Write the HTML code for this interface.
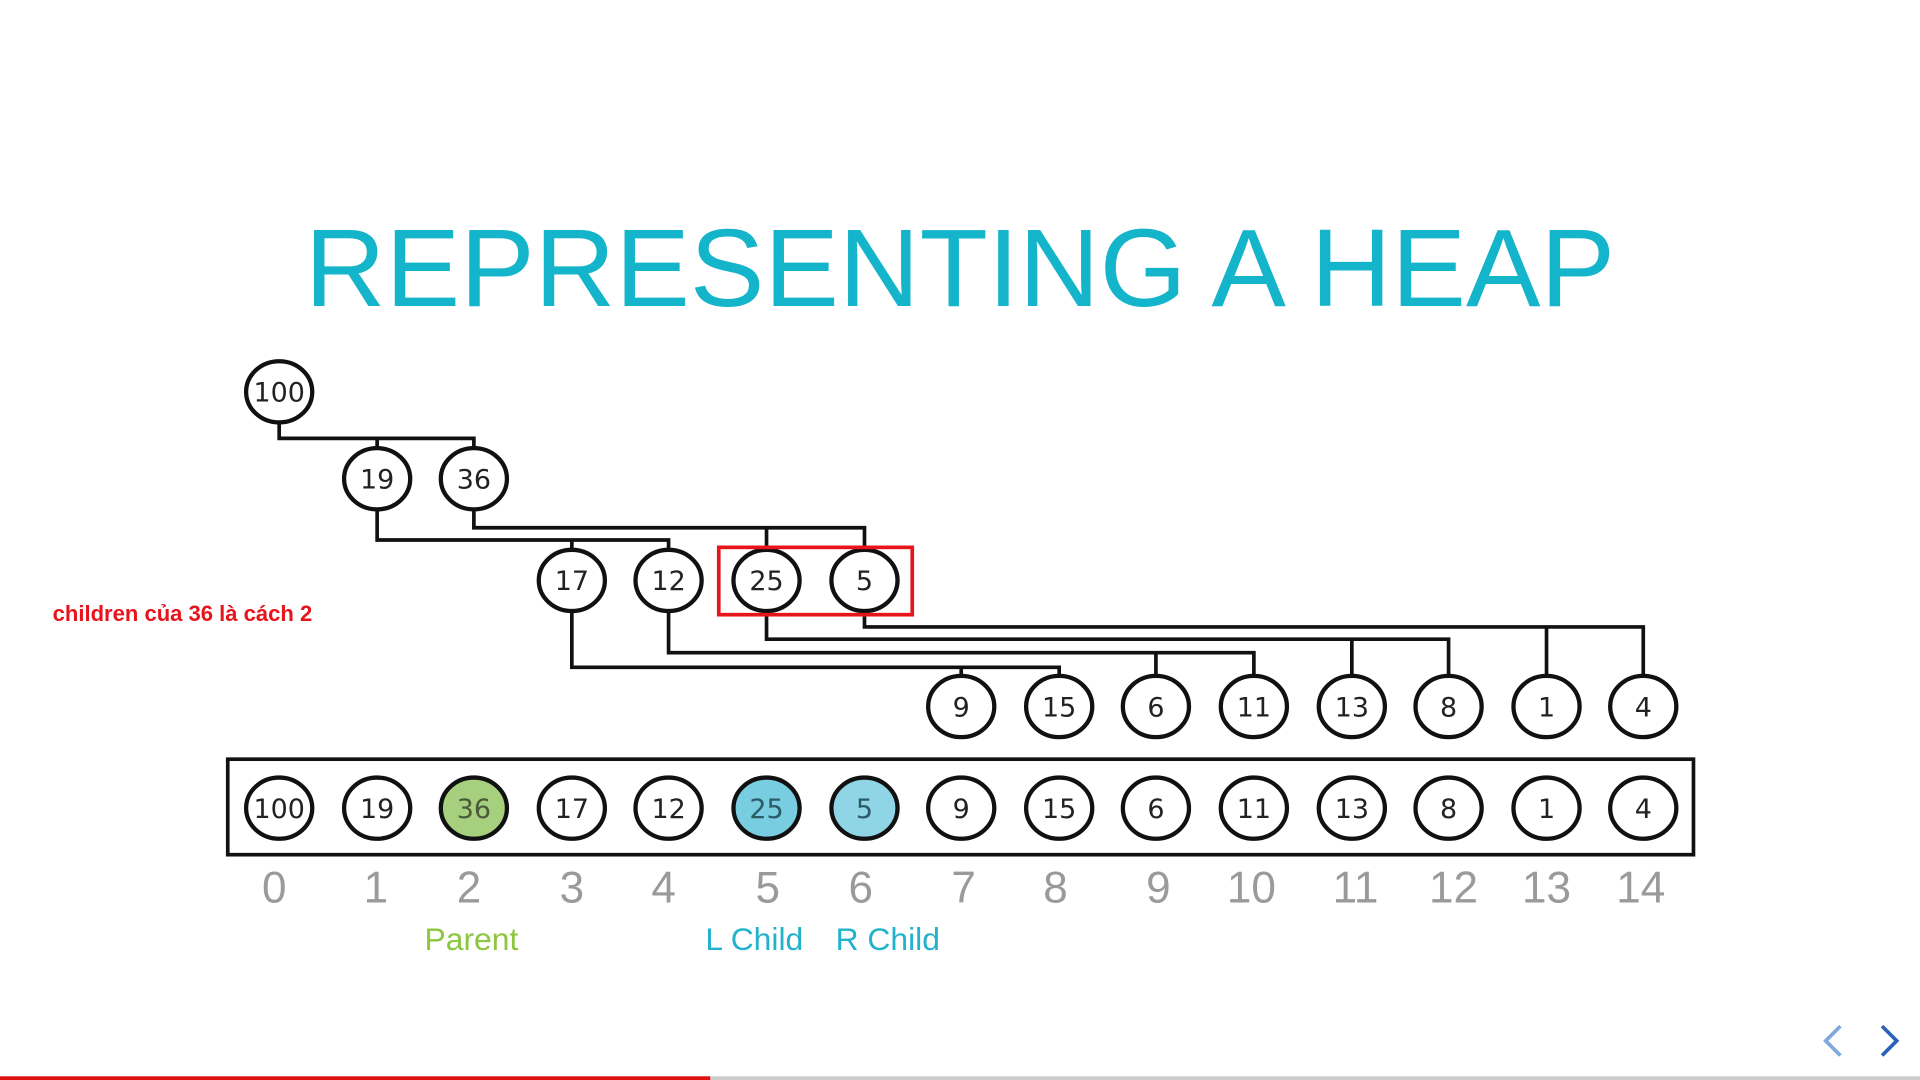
<!DOCTYPE html>
<html><head><meta charset="utf-8"><style>html,body{margin:0;padding:0;background:#fff;overflow:hidden}svg{display:block}</style></head><body>
<svg width="1920" height="1080" viewBox="0 0 1568 882" preserveAspectRatio="none" xmlns="http://www.w3.org/2000/svg">
<rect width="1568" height="882" fill="#fff"/>
<text x="784" y="250" text-anchor="middle" font-family="Liberation Sans, sans-serif" font-size="90" fill="#14b4ca" textLength="1070" lengthAdjust="spacingAndGlyphs">REPRESENTING A HEAP</text>
<g stroke="#111" stroke-width="3" fill="none">
<polyline points="228,345 228,358 387,358 387,366"/><line x1="308" y1="358" x2="308" y2="366"/>
<polyline points="308,416 308,441 546,441 546,449"/><line x1="467" y1="441" x2="467" y2="449"/>
<polyline points="387,416 387,431 706,431 706,449"/><line x1="626" y1="431" x2="626" y2="449"/>
<polyline points="467,499 467,545 865,545 865,552"/><line x1="785" y1="545" x2="785" y2="552"/>
<polyline points="546,499 546,533 1024,533 1024,552"/><line x1="944" y1="533" x2="944" y2="552"/>
<polyline points="626,499 626,522 1183,522 1183,552"/><line x1="1104" y1="522" x2="1104" y2="552"/>
<polyline points="706,499 706,512 1342,512 1342,552"/><line x1="1263" y1="512" x2="1263" y2="552"/>
<rect x="186" y="620" width="1197" height="78"/>
</g>
<g stroke="#111" stroke-width="3.5" font-family="DejaVu Sans, sans-serif" font-size="22" text-anchor="middle">
<g fill="#fff">
<ellipse cx="228" cy="320" rx="27" ry="25"/>
<ellipse cx="308" cy="391" rx="27" ry="25"/><ellipse cx="387" cy="391" rx="27" ry="25"/>
<ellipse cx="467" cy="474" rx="27" ry="25"/><ellipse cx="546" cy="474" rx="27" ry="25"/><ellipse cx="626" cy="474" rx="27" ry="25"/><ellipse cx="706" cy="474" rx="27" ry="25"/>
<ellipse cx="785" cy="577" rx="27" ry="25"/><ellipse cx="865" cy="577" rx="27" ry="25"/><ellipse cx="944" cy="577" rx="27" ry="25"/><ellipse cx="1024" cy="577" rx="27" ry="25"/><ellipse cx="1104" cy="577" rx="27" ry="25"/><ellipse cx="1183" cy="577" rx="27" ry="25"/><ellipse cx="1263" cy="577" rx="27" ry="25"/><ellipse cx="1342" cy="577" rx="27" ry="25"/>
<ellipse cx="228" cy="660" rx="27" ry="25"/><ellipse cx="308" cy="660" rx="27" ry="25"/>
<ellipse cx="387" cy="660" rx="27" ry="25" fill="#a6d07e"/>
<ellipse cx="467" cy="660" rx="27" ry="25"/><ellipse cx="546" cy="660" rx="27" ry="25"/>
<ellipse cx="626" cy="660" rx="27" ry="25" fill="#79cde0"/><ellipse cx="706" cy="660" rx="27" ry="25" fill="#8fd5e5"/>
<ellipse cx="785" cy="660" rx="27" ry="25"/><ellipse cx="865" cy="660" rx="27" ry="25"/><ellipse cx="944" cy="660" rx="27" ry="25"/><ellipse cx="1024" cy="660" rx="27" ry="25"/><ellipse cx="1104" cy="660" rx="27" ry="25"/><ellipse cx="1183" cy="660" rx="27" ry="25"/><ellipse cx="1263" cy="660" rx="27" ry="25"/><ellipse cx="1342" cy="660" rx="27" ry="25"/>
</g>
<g fill="#222" stroke="none">
<text x="228" y="328">100</text>
<text x="308" y="399">19</text><text x="387" y="399">36</text>
<text x="467" y="482">17</text><text x="546" y="482">12</text><text x="626" y="482">25</text><text x="706" y="482">5</text>
<text x="785" y="585">9</text><text x="865" y="585">15</text><text x="944" y="585">6</text><text x="1024" y="585">11</text><text x="1104" y="585">13</text><text x="1183" y="585">8</text><text x="1263" y="585">1</text><text x="1342" y="585">4</text>
<text x="228" y="668">100</text><text x="308" y="668">19</text><text x="387" y="668" fill="#4a5a3a">36</text><text x="467" y="668">17</text><text x="546" y="668">12</text><text x="626" y="668" fill="#2a5a66">25</text><text x="706" y="668" fill="#2a5a66">5</text><text x="785" y="668">9</text><text x="865" y="668">15</text><text x="944" y="668">6</text><text x="1024" y="668">11</text><text x="1104" y="668">13</text><text x="1183" y="668">8</text><text x="1263" y="668">1</text><text x="1342" y="668">4</text>
</g>
</g>
<g font-family="Liberation Sans, sans-serif" font-size="36" fill="#9a9a9a" text-anchor="middle">
<text x="224" y="737">0</text><text x="307" y="737">1</text><text x="383" y="737">2</text><text x="467" y="737">3</text><text x="542" y="737">4</text><text x="627" y="737">5</text><text x="703" y="737">6</text><text x="787" y="737">7</text><text x="862" y="737">8</text><text x="946" y="737">9</text><text x="1022" y="737">10</text><text x="1107" y="737">11</text><text x="1187" y="737">12</text><text x="1263" y="737">13</text><text x="1340" y="737">14</text>
</g>
<g font-family="Liberation Sans, sans-serif" font-size="26" text-anchor="middle">
<text x="385" y="776" fill="#8dc63f">Parent</text>
<text x="616" y="776" fill="#22b2cc">L Child</text>
<text x="725" y="776" fill="#22b2cc">R Child</text>
</g>
<rect x="587" y="447" width="158" height="55" fill="none" stroke="#e8141c" stroke-width="3"/>
<text x="43" y="507" font-family="Liberation Sans, sans-serif" font-weight="bold" font-size="18" fill="#e8141c">children của 36 là cách 2</text>
<polyline points="1503,838 1491,850 1503,862" fill="none" stroke="#7fa8dc" stroke-width="3"/>
<polyline points="1537,838 1549,850 1537,862" fill="none" stroke="#2a62b8" stroke-width="3"/>
<rect x="0" y="879" width="1568" height="3" fill="#ccc"/>
<rect x="0" y="879" width="580" height="3" fill="#e01010"/>
</svg>
</body></html>
